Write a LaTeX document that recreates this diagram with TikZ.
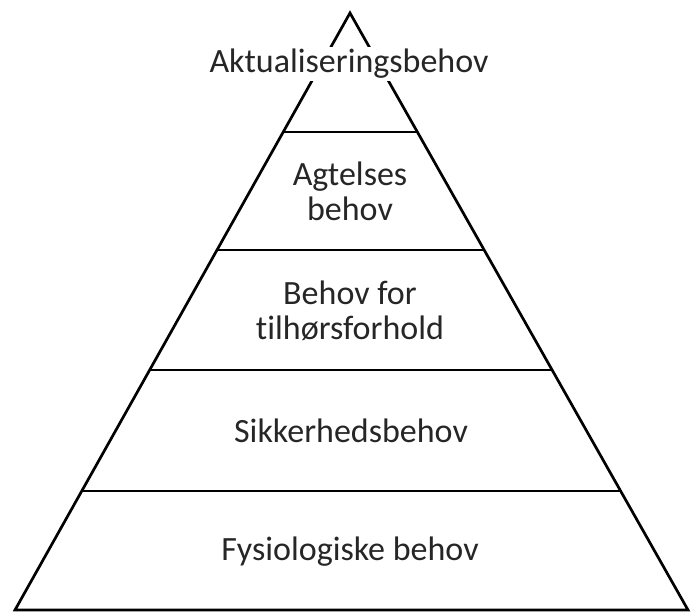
\documentclass[tikz,border=0pt]{standalone}
\usepackage{fontspec}
\setmainfont[Ligatures=CommonOff]{Carlito}
\usetikzlibrary{calc}
\begin{document}
\begin{tikzpicture}[x=1pt,y=-1pt,line width=2.7pt,
    tier/.style={align=center,font=\fontsize{34}{35}\selectfont,text=black!85}]
    \useasboundingbox (0,0) rectangle (691,612);
    \coordinate (T) at (350,13);
    \coordinate (L) at (15,610) ;
    \coordinate (R) at (688,610) ;
    \draw (T) -- (L) -- (R) -- cycle;
    \draw ($(T)!0.1993!(L)$) -- ($(T)!0.1993!(R)$);
    \draw ($(T)!0.3970!(L)$) -- ($(T)!0.3970!(R)$);
    \draw ($(T)!0.5980!(L)$) -- ($(T)!0.5980!(R)$);
    \draw ($(T)!0.8007!(L)$) -- ($(T)!0.8007!(R)$);
    \node[tier,anchor=base,fill=white,inner sep=2pt] (akt) at (349,73) {Aktualiseringsbehov};
    \node[tier] (agt) at (350,191) {Agtelses\\behov};
    \node[tier] (tilh) at (350,311) {Behov for\\tilhørsforhold};
    \node[tier,anchor=base] (sikk) at (351,442) {Sikkerhedsbehov};
    \node[tier,anchor=base] (fys) at (350,560) {Fysiologiske behov};
\end{tikzpicture}
\end{document}
